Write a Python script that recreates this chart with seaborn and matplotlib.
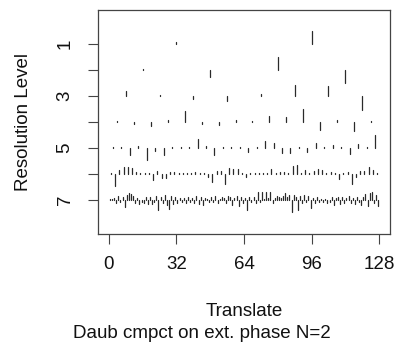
import numpy as np
import pandas as pd
import matplotlib
matplotlib.use("Agg")
import matplotlib.pyplot as plt
import seaborn as sns

# wavelet coefficients (arbitrary units, + = up)
level1 = [2, 13]
level2 = [1, -7, 13, -13]
level3 = [5, 1, -3, -5, 2, 11, 10, -14]
level4 = [1, -2, -4, 2, 11, -2, -3, 2, 1, 6, 5, 13, -8, 2, -9, 1]
level5 = [1, 1, -7, 2, -12, -3, -7, 1, 1, 1, 9, 2, -7, 1, 1, 1,
          -4, 1, 7, 5, -5, -5, 1, -4, 5, 1, 3, 1, -6, 4, 1, 13]
level6 = [1, -12, 4, 7, 7, 6, 2, 1, 1, 1, -6, 3, -4, -4, 2, 2,
          1, 1, 1, 1, 2, 1, 1, -3, -8, 3, 3, -10, 6, 5, 5, 1,
          -3, 1, 1, 1, 1, 1, 5, 1, 2, 2, 1, 8, 9, 1, 4, 1,
          3, 5, 4, 1, 2, 1, -5, 1, 2, -10, -3, 3, 3, 7, 4, 1]
level7 = [1, 1, 2, -3, 4, -2, 3, -7, 5, 7,
          6, 4, -3, 2, -4, -2, -3, 3, -4, 3,
          -4, -2, 4, -10, 3, -3, 5, -5, -9, 4,
          -4, 3, -3, 2, -2, 2, -3, 3, -2, 2,
          -3, 4, -4, 3, -5, 2, 1, -2, 3, -2,
          4, -3, 1, 3, 2, -3, 4, 3, -5, 2,
          4, -6, 3, -3, 2, -10, 3, -2, 3, -3,
          8, -2, 8, 1, 8, 2, 8, -3, 2, 4,
          3, 2, 4, 7, 3, 5, -12, 5, 3, -10,
          4, -3, 5, -2, 4, -8, 2, -3, 3, -2,
          1, -2, 1, -3, -2, 3, -5, 2, 3, -4,
          3, -3, 2, 4, -3, 2, -4, 3, -2, -5,
          3, 6, -6, 7, 8, -3, 5, -6]
levels = [level1, level2, level3, level4, level5, level6, level7]
scale = 26.0  # coefficient units per resolution level
n = 128

rows = []
seg = 0
for lev, coefs in enumerate(levels, start=1):
    m = len(coefs)
    for k, c in enumerate(coefs):
        x = (k + 0.5) * n / m
        rows.append((seg, x, lev))
        rows.append((seg, x, lev - c / scale))
        seg += 1
df = pd.DataFrame(rows, columns=["seg", "translate", "level"])

sns.set_style("white")
plt.rcParams["font.family"] = ["Liberation Sans", "DejaVu Sans"]

fig = plt.figure(figsize=(3.97, 3.43), dpi=100)
ax = fig.add_axes([98 / 397, 1 - 234 / 343, 292 / 397, 224 / 343])
sns.lineplot(data=df, x="translate", y="level", units="seg", estimator=None,
             sort=False, color="#2a2a2a", lw=0.9, ax=ax, legend=False)

ax.set_xlim(-0.04 * n, 1.04 * n)
ax.set_ylim(8.32, -0.32)
ax.set_xticks([0, 32, 64, 96, 128])
ax.set_yticks([1, 2, 3, 4, 5, 6, 7])
ax.set_yticklabels(["1", "", "3", "", "5", "", "7"], rotation=90, va="center")
ax.tick_params(axis="both", direction="out", length=7.5, width=0.8,
               color="#444444", labelsize=13.5, pad=8, left=True, bottom=True,
               labelcolor="#111111")
ax.tick_params(axis="y", pad=10)
for s in ax.spines.values():
    s.set_color("#444444")
    s.set_linewidth(0.9)

ax.set_xlabel("Translate", fontsize=13.5, color="#111111")
ax.set_ylabel("Resolution Level", fontsize=13.5, color="#111111")
ax.xaxis.set_label_coords(0.5, -0.31)
ax.yaxis.set_label_coords(-0.225, 0.5)
fig.text(0.5 + 3 / 397, 1 - 334 / 343, "Daub cmpct on ext. phase N=2",
         ha="center", va="center", fontsize=13.5, color="#111111")

fig.savefig("out.png", dpi=100)
